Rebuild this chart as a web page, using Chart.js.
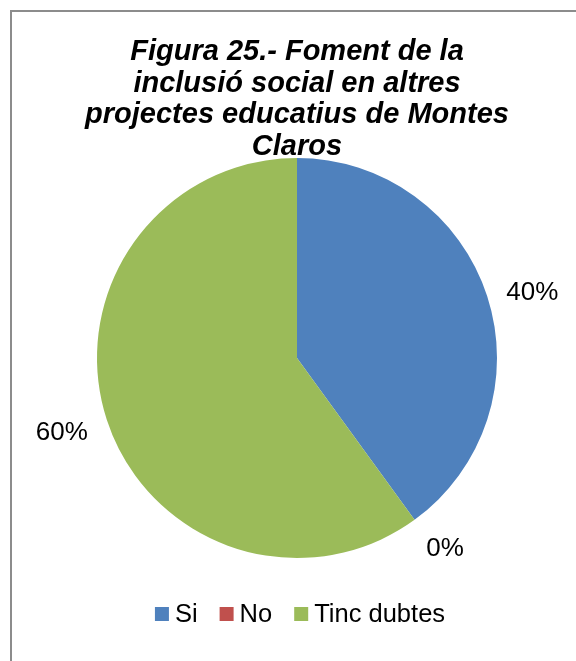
<!DOCTYPE html>
<html>
<head>
<meta charset="utf-8">
<script src="https://cdn.jsdelivr.net/npm/chart.js@4.4.1/dist/chart.umd.min.js"></script>
<style>
    html, body { margin: 0; padding: 0; background: #fff; overflow: hidden; }
    #wrap { position: relative; width: 576px; height: 661px; }
    #frame {
        position: absolute; left: 10px; top: 10px; width: 700px; height: 800px;
        border-left: 2px solid #8c8c8c; border-top: 2px solid #8c8c8c;
        pointer-events: none;
    }
    canvas { position: absolute; left: 0; top: 0; }
</style>
</head>
<body>
<div id="wrap">
    <canvas id="pieChart" width="576" height="661"></canvas>
    <div id="frame"></div>
</div>
<script>
// Données du graphique
const categories = ['Si', 'No', 'Tinc dubtes'];
const values = [40, 0, 60];
const percentLabels = ['40%', '0%', '60%'];
const colors = ['#4F81BD', '#C0504D', '#9BBB59'];
const titleLines = [
    'Figura 25.- Foment de la',
    'inclusió social en altres',
    'projectes educatius de Montes',
    'Claros'
];

const FONT = '"Liberation Sans", Arial, sans-serif';

// Titre dessiné par-dessus le graphique (chevauche le haut du camembert)
const titlePlugin = {
    id: 'overlayTitle',
    afterDraw(chart) {
        const ctx = chart.ctx;
        ctx.save();
        ctx.font = 'italic bold 29px ' + FONT;
        ctx.fillStyle = '#000';
        ctx.textAlign = 'center';
        ctx.textBaseline = 'middle';
        titleLines.forEach((line, i) => {
            ctx.fillText(line, 297, 52 + i * 31.5);
        });
        ctx.restore();
    }
};

// Étiquettes de pourcentage à l'extérieur des parts (boîte collée au bord)
const outsideLabels = {
    id: 'outsideLabels',
    afterDatasetsDraw(chart) {
        const ctx = chart.ctx;
        const meta = chart.getDatasetMeta(0);
        const clamp = v => Math.max(-1, Math.min(1, v));
        ctx.save();
        ctx.font = '26px ' + FONT;
        ctx.fillStyle = '#000';
        ctx.textAlign = 'center';
        ctx.textBaseline = 'middle';
        meta.data.forEach((arc, i) => {
            const p = arc.getProps(['x', 'y', 'startAngle', 'endAngle', 'outerRadius'], true);
            const mid = (p.startAngle + p.endAngle) / 2;
            const dx = Math.cos(mid), dy = Math.sin(mid);
            const dist = p.outerRadius + 20;
            const w = ctx.measureText(percentLabels[i]).width;
            const h = 20;
            const cx = p.x + dx * dist + clamp(dx * 2) * w / 2;
            const cy = p.y + dy * dist + Math.max(0, clamp(dy * 1.3)) * h / 2 + 3;
            ctx.fillText(percentLabels[i], cx, cy);
        });
        ctx.restore();
    }
};

// Légende personnalisée (espacements proches de l'original)
const customLegend = {
    id: 'customLegend',
    afterDraw(chart) {
        const ctx = chart.ctx;
        const box = 14, boxGap = 6, itemGap = 22;
        ctx.save();
        ctx.font = '25.5px ' + FONT;
        const widths = categories.map(c => box + boxGap + ctx.measureText(c).width);
        const total = widths.reduce((a, b) => a + b, 0) + itemGap * (categories.length - 1);
        let x = 300 - total / 2;
        const y = 614;
        ctx.textBaseline = 'middle';
        ctx.textAlign = 'left';
        categories.forEach((c, i) => {
            ctx.fillStyle = colors[i];
            ctx.fillRect(x, y - box / 2, box, box);
            ctx.fillStyle = '#000';
            ctx.fillText(c, x + box + boxGap, y + 1);
            x += widths[i] + itemGap;
        });
        ctx.restore();
    }
};

new Chart(document.getElementById('pieChart').getContext('2d'), {
    type: 'pie',
    data: {
        labels: categories,
        datasets: [{
            data: values,
            backgroundColor: colors,
            borderWidth: 0,
            hoverOffset: 0
        }]
    },
    options: {
        responsive: false,
        animation: false,
        layout: {
            padding: { left: 97, right: 79, top: 158, bottom: 103 }
        },
        plugins: {
            legend: { display: false },
            title: { display: false },
            tooltip: { enabled: false }
        }
    },
    plugins: [outsideLabels, titlePlugin, customLegend]
});
</script>
</body>
</html>
